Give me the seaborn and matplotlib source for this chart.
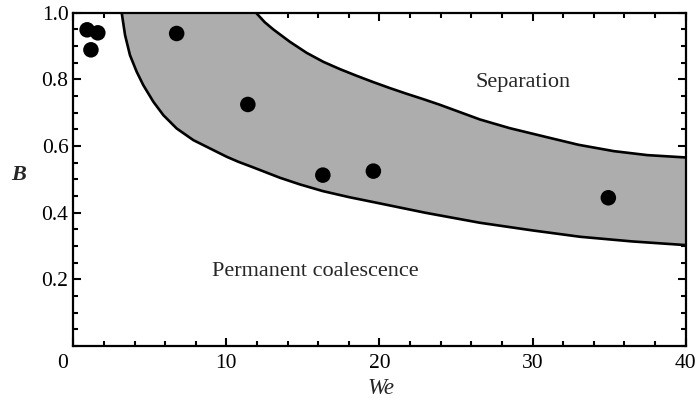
import matplotlib
matplotlib.use("Agg")
import matplotlib.pyplot as plt
import matplotlib.transforms as mtransforms
import seaborn as sns
import numpy as np
import pandas as pd
from matplotlib.ticker import MultipleLocator

# Data
dot_we = [0.9, 1.6, 1.15, 6.75, 11.4, 16.3, 19.6, 34.95]
dot_b = [0.949, 0.940, 0.889, 0.938, 0.725, 0.513, 0.525, 0.445]

lower_we = [3.16, 3.38, 3.70, 4.14, 4.57, 5.23, 5.88, 6.75, 7.84, 8.93, 10.02, 10.78,
            11.76, 13.5, 14.81, 16.3, 18.0, 20.03, 23.0, 26.56, 30.0, 33.1, 36.5, 40.0]
lower_b = [1.0, 0.933, 0.873, 0.823, 0.783, 0.733, 0.693, 0.653, 0.618, 0.593, 0.568, 0.553,
           0.536, 0.505, 0.485, 0.465, 0.447, 0.428, 0.400, 0.370, 0.347, 0.328, 0.314, 0.303]

upper_we = [11.98, 12.5, 13.07, 14.15, 15.24, 16.33, 17.42, 18.51, 19.6, 20.69, 21.78, 22.86,
            23.95, 26.56, 28.5, 30.92, 33.0, 35.3, 37.5, 40.0]
upper_b = [0.998, 0.972, 0.950, 0.913, 0.880, 0.853, 0.831, 0.811, 0.792, 0.774, 0.757, 0.741,
           0.724, 0.680, 0.654, 0.627, 0.604, 0.585, 0.573, 0.566]

x_ticks = [0, 10, 20, 30, 40]
y_ticks = [0.2, 0.4, 0.6, 0.8, 1.0]
region_labels = ["Separation", "Permanent coalescence"]

sns.set_style("ticks")
plt.rcParams['font.family'] = ['Liberation Serif', 'DejaVu Serif']

fig = plt.figure(figsize=(6.99, 4.01), dpi=100)
ax = fig.add_axes([0.1049, 0.137, 0.876, 0.831])

# Shaded band between the two boundary curves
grid = np.linspace(lower_we[0], 40, 600)
lo = np.interp(grid, lower_we, lower_b)
hi = np.where(grid < upper_we[0], 1.0, np.interp(grid, upper_we, upper_b))
ax.fill_between(grid, lo, hi, color="#adadad", linewidth=0, zorder=1)

curves = pd.DataFrame({
    "We": lower_we + upper_we,
    "B": lower_b + upper_b,
    "curve": ["lower"] * len(lower_we) + ["upper"] * len(upper_we),
})
sns.lineplot(data=curves, x="We", y="B", units="curve", estimator=None, sort=True,
             color="black", linewidth=1.9, ax=ax, zorder=3)

dots = pd.DataFrame({"We": dot_we, "B": dot_b})
sns.scatterplot(data=dots, x="We", y="B", color="black", s=125, edgecolor="none",
                ax=ax, zorder=4)

ax.set_xlim(0, 40)
ax.set_ylim(0, 1.0)
ax.set_xticks(x_ticks)
ax.set_xticklabels([str(v) for v in x_ticks])
ax.set_yticks(y_ticks)
ax.set_yticklabels([f"{v:.1f}" for v in y_ticks])
ax.xaxis.set_minor_locator(MultipleLocator(2))
ax.yaxis.set_minor_locator(MultipleLocator(0.05))
ax.tick_params(which="both", direction="in", top=True, right=True, width=1.5, colors="black")
ax.tick_params(which="major", length=6, labelsize=15.5)
ax.tick_params(axis="x", which="major", pad=6)
ax.tick_params(axis="y", which="major", pad=3.5)
ax.tick_params(which="minor", length=3.5)
for s in ax.spines.values():
    s.set_linewidth(1.6)
    s.set_color("black")
    s.set_zorder(5)

# shift the "0" label on x a little to the left, as in the reference
fig.canvas.draw()
lbl0 = ax.get_xticklabels()[0]
lbl0.set_transform(lbl0.get_transform() + mtransforms.ScaledTranslation(-11 / 100, 0, fig.dpi_scale_trans))

ax.set_xlabel("We", fontsize=16.5, fontstyle="italic")
ax.xaxis.set_label_coords(0.502, -0.097)
ax.set_ylabel("B", fontsize=16, fontstyle="italic", fontweight="bold", rotation=0)
ax.yaxis.set_label_coords(-0.09, 0.483)

ax.text(29.4, 0.79, region_labels[0], fontsize=16, ha="center", va="center")
ax.text(15.8, 0.225, region_labels[1], fontsize=16, ha="center", va="center")

fig.savefig("out.png", dpi=100)
